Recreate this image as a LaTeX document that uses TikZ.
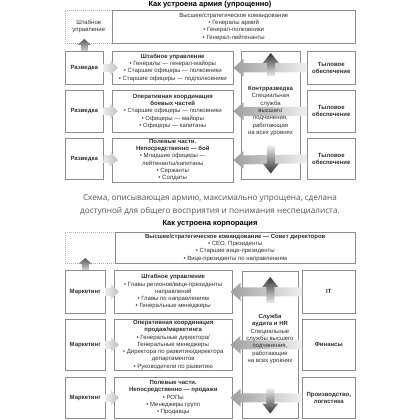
\documentclass[tikz,border=0pt]{standalone}
\usepackage{fontspec}
\setmainfont{Liberation Sans}
\newfontfamily\notefont{Open Sans}
\usepackage{tikz}
\usetikzlibrary{calc,positioning}
\definecolor{FrameGray}{HTML}{8C8C8C}
\definecolor{InkGray}{HTML}{2E2E2E}
\definecolor{NoteGray}{HTML}{555555}
% shaded block arrow: shading, tail, tip, shaft half width, head half width, head length
\newcommand{\blockarrow}[6]{%
  \coordinate (arrowbase) at ($(#3)!#6!(#2)$);
  \shade[#1] ($(#2)!#4!90:(#3)$) -- ($(arrowbase)!#4!90:(#3)$) -- ($(arrowbase)!#5!90:(#3)$)
    -- (#3) -- ($(arrowbase)!#5!-90:(#3)$) -- ($(arrowbase)!#4!-90:(#3)$) -- ($(#2)!#4!-90:(#3)$) -- cycle;}

\begin{document}
\begin{tikzpicture}[x=1pt, y=-1pt,
  box/.style={draw=FrameGray, line width=0.5pt, align=center, anchor=north west, inner sep=1pt, text=InkGray, font=\fontsize{6}{7.3}\selectfont},
  unit/.style={box, font=\fontsize{6}{7.3}\selectfont\bfseries},
  ghost/.style={box, draw=gray!60, dash pattern=on 1pt off 1pt},
  title/.style={font=\fontsize{7.5}{9}\selectfont\bfseries, text=black},
  note/.style={font=\notefont\fontsize{8.2}{12.5}\selectfont, text=NoteGray, align=center},
  plain/.style={align=center, text=InkGray, font=\fontsize{6}{7.3}\selectfont, inner sep=0pt},
  rise/.style={top color=black!80, bottom color=gray!15},
  fall/.style={top color=gray!15, bottom color=black!80}
]
\useasboundingbox (0,0) rectangle (420,420);

% army
\node[title] (armytitle) at (210,5) {Как устроена армия (упрощенно)};
\node[ghost, minimum width=47pt, minimum height=33pt] (ashtab) at (65,10) {Штабное\\управление};
\node[box, minimum width=243pt, minimum height=33pt] (atop) at (112,10) {Высшее/стратегическое командование\\• Генералы армий\\• Генерал-полковники\\• Генерал-лейтенанты};

\node[box, minimum width=59pt, minimum height=128pt] (kcol) at (241,51) {};

\node[unit, minimum width=38pt, minimum height=33pt] (razv1) at (65,51) {Разведка};
\node[box, minimum width=121pt, minimum height=33pt] (komand1) at (112,51) {\textbf{Штабное управление}\\• Генералы — генерал-майоры\\• Старшие офицеры — полковники\\• Старшие офицеры — подполковники};
\node[unit, minimum width=48pt, minimum height=33pt] (tyl1) at (307,51) {Тыловое\\обеспечение};

\node[unit, minimum width=38pt, minimum height=42pt] (razv2) at (65,90) {Разведка};
\node[box, minimum width=121pt, minimum height=42pt] (komand2) at (112,90) {\textbf{Оперативная координация}\\\textbf{боевых частей}\\• Старшие офицеры — полковники\\• Офицеры — майоры\\• Офицеры — капитаны};
\node[unit, minimum width=48pt, minimum height=42pt] (tyl2) at (307,90) {Тыловое\\обеспечение};

\node[unit, minimum width=38pt, minimum height=41pt] (razv3) at (65,138) {Разведка};
\node[box, minimum width=121pt, minimum height=41pt] (komand3) at (112,138) {\textbf{Полевые части.}\\\textbf{Непосредственно — бой}\\• Младшие офицеры —\\лейтенанты/капитаны\\• Сержанты\\• Солдаты};
\node[unit, minimum width=48pt, minimum height=41pt] (tyl3) at (307,138) {Тыловое\\обеспечение};

\coordinate (aup) at ($(razv1.north)+(0,-12)$);
\blockarrow{top color=black!65, bottom color=gray!35}{razv1.north}{aup}{3.5pt}{7pt}{6pt}
\foreach \r in {1,2,3} {
  \coordinate (atip\r) at ($(komand\r.west)+(6,0)$);
  \blockarrow{left color=gray!15, right color=gray!50}{razv\r.east}{atip\r}{4pt}{7.5pt}{8pt}
  \blockarrow{left color=gray!75, right color=gray!12}{tyl\r.west}{komand\r.east}{4.5pt}{9pt}{10pt}
}
\coordinate (kbase1) at ($(kcol.north)+(0,25)$);
\coordinate (ktip1) at ($(kcol.north)+(0,2)$);
\coordinate (kbase3) at ($(kcol.south)+(0,-34)$);
\coordinate (ktip3) at ($(kcol.south)+(0,-6)$);
\blockarrow{rise}{kbase1}{ktip1}{4pt}{8pt}{10pt}
\blockarrow{fall}{kbase3}{ktip3}{4pt}{8pt}{10pt}

\node[plain] (kontr) at (270.5,111) {\textbf{Контрразведка}\\Специальная\\служба\\высшего\\подчинения,\\работающая\\на всех уровнях};

\node[note] (remark) at (210,205) {Схема, описывающая армию, максимально упрощена, сделана\\доступной для общего восприятия и понимания неспециалиста.};

% corporation
\node[title] (corptitle) at (210,224) {Как устроена корпорация};
\node[ghost, minimum width=50pt, minimum height=31pt] (cshtab) at (65,232) {};
\node[box, minimum width=240pt, minimum height=31pt] (ctop) at (115,232) {\textbf{Высшее/стратегическое командование — Совет директоров}\\• CEO, Президенты\\• Старшие вице-президенты\\• Вице-президенты по направлениям};

\node[box, minimum width=56pt, minimum height=147pt] (acol) at (242,271) {};

\node[unit, minimum width=40pt, minimum height=43pt] (mark1) at (65,270) {Маркетинг};
\node[box, minimum width=118pt, minimum height=43pt] (upr1) at (114,270) {\textbf{Штабное управление}\\• Главы регионов/вице-президенты\\направлений\\• Главы по направлениям\\• Генеральные менеджеры};
\node[unit, minimum width=53pt, minimum height=43pt] (serv1) at (302,270) {IT};

\node[unit, minimum width=40pt, minimum height=51pt] (mark2) at (65,319) {Маркетинг};
\node[box, minimum width=118pt, minimum height=51pt] (upr2) at (114,319) {\textbf{Оперативная координация}\\\textbf{продаж/маркетинга}\\• Генеральные директора/\\Генеральные менеджеры\\• Директора по развитию/директора\\департаментов\\• Руководители по развитию};
\node[unit, minimum width=53pt, minimum height=51pt] (serv2) at (302,319) {Финансы};

\node[unit, minimum width=40pt, minimum height=41pt] (mark3) at (65,377) {Маркетинг};
\node[box, minimum width=118pt, minimum height=41pt] (upr3) at (114,377) {\textbf{Полевые части.}\\\textbf{Непосредственно — продажи}\\• РОПы\\• Менеджеры групп\\• Продавцы};
\node[unit, minimum width=53pt, minimum height=41pt] (serv3) at (302,377) {Производство,\\логистика};

\coordinate (cup) at ($(mark1.north)+(0,-12)$);
\blockarrow{top color=black!65, bottom color=gray!35}{mark1.north}{cup}{3.5pt}{7pt}{6pt}
\foreach \r in {1,2,3} {
  \coordinate (ctip\r) at ($(upr\r.west)+(5,0)$);
  \blockarrow{left color=gray!15, right color=gray!50}{mark\r.east}{ctip\r}{4pt}{7.5pt}{8pt}
  \coordinate (cend\r) at ($(upr\r.east)+(-2,0)$);
  \blockarrow{left color=gray!75, right color=gray!12}{serv\r.west}{cend\r}{4.5pt}{9pt}{10pt}
}
\coordinate (abase1) at ($(acol.north)+(0,32)$);
\coordinate (atip1) at ($(acol.north)+(0,6)$);
\coordinate (abase3) at ($(acol.south)+(0,-30)$);
\coordinate (atip3) at ($(acol.south)+(0,-5)$);
\blockarrow{rise}{abase1}{atip1}{4pt}{8pt}{10pt}
\blockarrow{fall}{abase3}{atip3}{4pt}{8pt}{10pt}

\node[plain] (audit) at (270,339) {\textbf{Служба}\\\textbf{аудита и HR}\\Специальные\\службы высшего\\подчинения,\\работающие\\на всех уровнях};
\end{tikzpicture}
\end{document}
